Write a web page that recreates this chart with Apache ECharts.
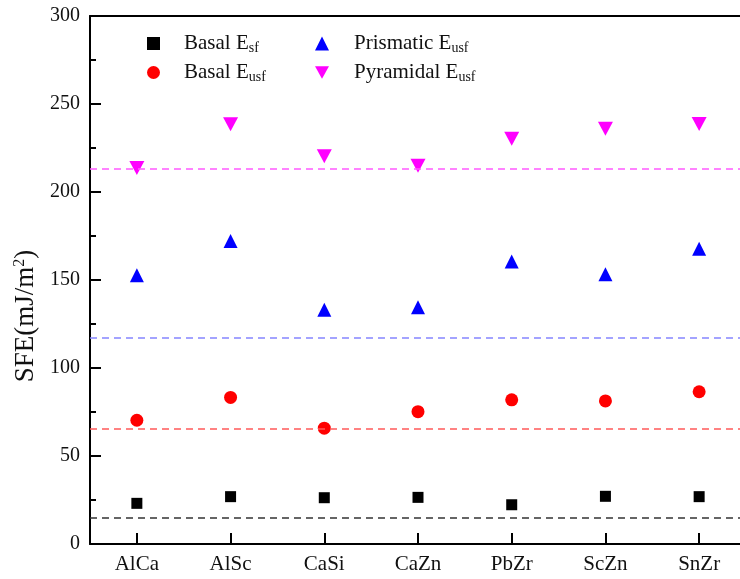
<!DOCTYPE html>
<html>
<head>
<meta charset="utf-8">
<script src="https://cdn.jsdelivr.net/npm/echarts@6/dist/echarts.min.js"></script>
<style>
  html, body { margin: 0; padding: 0; background: #fff; }
  #chart { width: 740px; height: 579px; }
</style>
</head>
<body>
<div id="chart"></div>
<script>
const alloys = ['AlCa', 'AlSc', 'CaSi', 'CaZn', 'PbZr', 'ScZn', 'SnZr'];
const basalEsf = [23.1, 26.9, 26.3, 26.5, 22.3, 27.1, 26.9];
const basalEusf = [70.3, 83.3, 65.8, 75.2, 81.9, 81.3, 86.5];
const prismaticEusf = [152.7, 172.2, 133.1, 134.5, 160.5, 153.2, 167.7];
const pyramidalEusf = [213.7, 238.5, 220.3, 214.9, 230.3, 236.0, 238.6];
// dashed reference levels (pure Mg values)
const refEsf = 15.0;
const refBasalEusf = 65.5;
const refPrismEusf = 117.2;
const refPyrEusf = 213.4;

const FONT = 'Liberation Serif';
const downTriangle = 'path://M0,0 L20,0 L10,18 Z';

// legend label: main part + subscript
const subs = {
    'Basal Esf': ['Basal E', 'sf'],
    'Basal Eusf': ['Basal E', 'usf'],
    'Prismatic Eusf': ['Prismatic E', 'usf'],
    'Pyramidal Eusf': ['Pyramidal E', 'usf']
};
const legendText = {
    fontFamily: FONT,
    color: '#111',
    rich: {
        a: { fontFamily: FONT, fontSize: 21, color: '#111', lineHeight: 24 },
        s: { fontFamily: FONT, fontSize: 14, color: '#111', lineHeight: 24, padding: [9, 0, 0, 0] }
    }
};
const fmt = name => '{a|' + subs[name][0] + '}{s|' + subs[name][1] + '}';

function refLine(value, color) {
    return {
        symbol: 'none',
        silent: true,
        label: { show: false },
        lineStyle: { type: [7, 5], width: 1.5, color: color, opacity: 1 },
        data: [{ yAxis: value }]
    };
}

const chart = echarts.init(document.getElementById('chart'));
const option = {
    animation: false,
    // plot runs slightly past the right edge of the picture, as in the original
    grid: { left: 90, width: 656, top: 16, bottom: 35, outerBoundsMode: 'none' },
    legend: [{
        orient: 'vertical',
        left: 142, top: 27,
        itemWidth: 13, itemHeight: 13, itemGap: 6,
        data: [{ name: 'Basal Esf', icon: 'rect' }, { name: 'Basal Eusf', icon: 'circle' }],
        formatter: fmt,
        textStyle: Object.assign({ padding: [0, 0, 0, 19] }, legendText)
    }, {
        orient: 'vertical',
        left: 310, top: 27,
        itemWidth: 14, itemHeight: 14, itemGap: 6,
        data: [{ name: 'Prismatic Eusf', icon: 'triangle' }, { name: 'Pyramidal Eusf', icon: downTriangle }],
        formatter: fmt,
        textStyle: Object.assign({ padding: [0, 0, 0, 20] }, legendText)
    }],
    xAxis: [{
        type: 'category',
        data: alloys,
        axisLine: { show: true, lineStyle: { color: '#000', width: 2 } },
        axisTick: { show: true, inside: true, alignWithLabel: true, length: 11, lineStyle: { color: '#000', width: 2 } },
        axisLabel: { fontFamily: FONT, fontSize: 21, color: '#111', margin: 10 },
        splitLine: { show: false }
    }, {
        // top frame line
        type: 'category',
        position: 'top',
        data: alloys,
        axisLine: { show: true, lineStyle: { color: '#000', width: 2 } },
        axisTick: { show: false },
        axisLabel: { show: false },
        splitLine: { show: false }
    }],
    yAxis: {
        type: 'value',
        min: 0, max: 300, interval: 50,
        name: '{a|SFE(mJ/m}{b|2}{a|)}',
        nameLocation: 'middle',
        nameGap: 45,
        nameTextStyle: {
            fontFamily: FONT, color: '#111', padding: [0, 72, 0, 0],
            rich: {
                a: { fontFamily: FONT, fontSize: 27, color: '#111' },
                b: { fontFamily: FONT, fontSize: 16, color: '#111', padding: [0, 0, 12, 0] }
            }
        },
        axisLine: { show: true, lineStyle: { color: '#000', width: 2 } },
        axisTick: { show: true, inside: true, length: 11, lineStyle: { color: '#000', width: 2 } },
        minorTick: { show: true, splitNumber: 2, length: 6, lineStyle: { color: '#000', width: 2 } },
        axisLabel: { fontFamily: FONT, fontSize: 20, color: '#111', margin: 10 },
        splitLine: { show: false }
    },
    series: [{
        name: 'Basal Esf', type: 'scatter', data: basalEsf,
        symbol: 'rect', symbolSize: 11, itemStyle: { color: '#000', opacity: 1 },
        markLine: refLine(refEsf, '#333')
    }, {
        name: 'Basal Eusf', type: 'scatter', data: basalEusf,
        symbol: 'circle', symbolSize: 13, itemStyle: { color: '#ff0000', opacity: 1 },
        markLine: refLine(refBasalEusf, '#ff5a5a')
    }, {
        name: 'Prismatic Eusf', type: 'scatter', data: prismaticEusf,
        symbol: 'triangle', symbolSize: [14, 14], itemStyle: { color: '#0000ff', opacity: 1 },
        markLine: refLine(refPrismEusf, '#8585ff')
    }, {
        name: 'Pyramidal Eusf', type: 'scatter', data: pyramidalEusf,
        symbol: downTriangle, symbolSize: [15, 14], itemStyle: { color: '#ff00ff', opacity: 1 },
        markLine: refLine(refPyrEusf, '#ff5aff')
    }]
};
chart.setOption(option);
</script>
</body>
</html>
